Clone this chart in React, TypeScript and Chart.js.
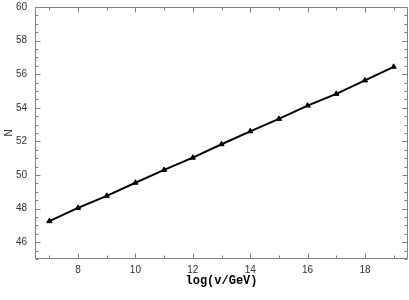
import React, { useEffect, useRef } from "react";
import { Chart, registerables } from "chart.js";

Chart.register(...registerables);

const logEnergy = [7, 8, 9, 10, 11, 12, 13, 14, 15, 16, 17, 18, 19];
const nValues = [47.25, 48.04, 48.76, 49.54, 50.3, 51.03, 51.83, 52.6, 53.34, 54.13, 54.83, 55.63, 56.44];
const xTickValues = [8, 10, 12, 14, 16, 18];
const yTickValues = [46, 48, 50, 52, 54, 56, 58, 60];
const xRange = [6.5, 19.5];
const yRange = [45, 60];
const xMinorStep = 1;
const yMinorStep = 0.5;
const xTitle = "log(v/GeV)";
const yTitle = "N";

const framePlugin = {
  id: "frame",
  beforeDatasetsDraw(chart: any) {
    const { ctx, chartArea } = chart;
    const { left, right, top, bottom } = chartArea;
    const xs = chart.scales.x;
    const ys = chart.scales.y;
    ctx.save();
    ctx.strokeStyle = "#808080";
    ctx.lineWidth = 1;
    const L = Math.round(left) + 0.5;
    const R = Math.round(right) - 0.5;
    const T = Math.round(top) + 0.5;
    const B = Math.round(bottom) - 0.5;
    ctx.beginPath();
    ctx.rect(L, T, R - L, B - T);
    ctx.stroke();
    const major = 5;
    const minor = 3;
    ctx.beginPath();
    for (let v = Math.ceil(xRange[0] / xMinorStep) * xMinorStep; v <= xRange[1]; v += xMinorStep) {
      const len = xTickValues.includes(v) ? major : minor;
      const px = Math.round(xs.getPixelForValue(v)) + 0.5;
      ctx.moveTo(px, B);
      ctx.lineTo(px, B - len);
      ctx.moveTo(px, T);
      ctx.lineTo(px, T + len);
    }
    for (let v = Math.ceil(yRange[0] / yMinorStep) * yMinorStep; v <= yRange[1]; v += yMinorStep) {
      const len = yTickValues.includes(v) ? major : minor;
      const py = Math.round(ys.getPixelForValue(v)) + 0.5;
      ctx.moveTo(L, py);
      ctx.lineTo(L + len, py);
      ctx.moveTo(R, py);
      ctx.lineTo(R - len, py);
    }
    ctx.stroke();
    ctx.restore();
  },
};

export default function App() {
  const ref = useRef<HTMLCanvasElement | null>(null);
  useEffect(() => {
    if (!ref.current) return;
    const chart = new Chart(ref.current, {
      type: "scatter",
      data: {
        datasets: [
          {
            data: logEnergy.map((x, i) => ({ x, y: nValues[i] })),
            showLine: true,
            borderColor: "#000",
            backgroundColor: "#000",
            borderWidth: 2,
            pointStyle: "triangle",
            pointRadius: 3,
            pointBorderWidth: 1,
            pointBorderColor: "#000",
            pointBackgroundColor: "#000",
          },
        ],
      },
      options: {
        animation: false,
        responsive: false,
        maintainAspectRatio: false,
        devicePixelRatio: 1,
        layout: { autoPadding: false, padding: { top: 7, right: 1, left: 0, bottom: 0 } },
        plugins: { legend: { display: false }, tooltip: { enabled: false } },
        scales: {
          x: {
            type: "linear",
            min: xRange[0],
            max: xRange[1],
            grid: { display: false, drawTicks: false },
            border: { display: false },
            afterBuildTicks: (s: any) => {
              s.ticks = xTickValues.map((value) => ({ value }));
            },
            afterFit: (s: any) => {
              s.height = 41;
              s.paddingLeft = 0;
              s.paddingRight = 0;
            },
            ticks: {
              padding: 5,
              maxRotation: 0,
              autoSkip: false,
              color: "#333",
              font: { family: "'Liberation Sans Narrow', 'Liberation Sans', Arial", size: 10 },
            },
            title: {
              display: true,
              text: xTitle,
              color: "#000",
              font: { family: "'Liberation Mono', 'Courier New', monospace", size: 12, weight: "bold" },
              padding: { top: 0, bottom: 12 },
            },
          },
          y: {
            type: "linear",
            min: yRange[0],
            max: yRange[1],
            grid: { display: false, drawTicks: false },
            border: { display: false },
            afterBuildTicks: (s: any) => {
              s.ticks = yTickValues.map((value) => ({ value }));
            },
            afterFit: (s: any) => {
              s.width = 35;
              s.paddingTop = 0;
              s.paddingBottom = 0;
            },
            ticks: {
              padding: 8,
              autoSkip: false,
              color: "#333",
              font: { family: "'Liberation Sans Narrow', 'Liberation Sans', Arial", size: 10 },
            },
            title: {
              display: true,
              text: yTitle,
              color: "#333",
              font: { family: "'Liberation Sans Narrow', 'Liberation Sans', Arial", size: 10 },
              padding: { top: 3, bottom: 0 },
            },
          },
        },
      },
      plugins: [framePlugin],
    });
    return () => chart.destroy();
  }, []);
  return (
    <div style={{ position: "absolute", left: 0, top: 0, width: 409, height: 300, background: "#fff" }}>
      <canvas ref={ref} width={409} height={300} style={{ display: "block", width: 409, height: 300 }} />
    </div>
  );
}
